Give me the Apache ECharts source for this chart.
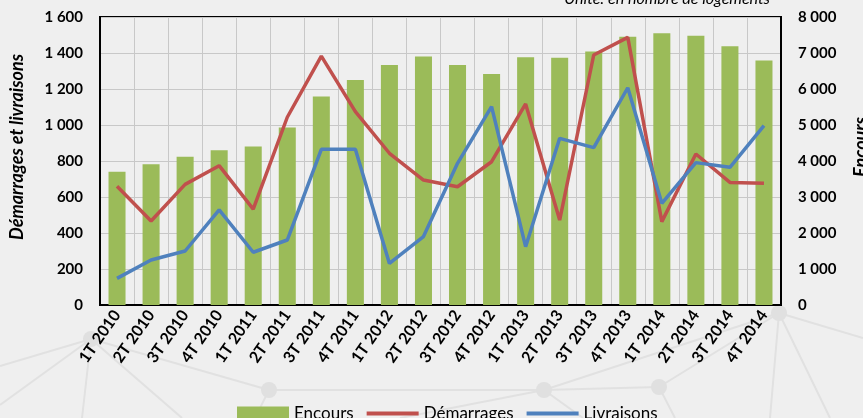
<!DOCTYPE html>
<html>
<head>
<meta charset="utf-8">
<script src="https://cdn.jsdelivr.net/npm/echarts@6/dist/echarts.min.js"></script>
<style>
  html, body { margin: 0; padding: 0; background: #efefef; }
  #chart { width: 863px; height: 418px; }
</style>
</head>
<body>
<div id="chart"></div>
<script>
// quarters
var categories = ['1T 2010', '2T 2010', '3T 2010', '4T 2010', '1T 2011', '2T 2011', '3T 2011', '4T 2011',
  '1T 2012', '2T 2012', '3T 2012', '4T 2012', '1T 2013', '2T 2013', '3T 2013', '4T 2013',
  '1T 2014', '2T 2014', '3T 2014', '4T 2014']

// right axis
var encours = [3700, 3910, 4120, 4300, 4400, 4930, 5790, 6250, 6670, 6900, 6670, 6420,
  6880, 6870, 7040, 7450, 7550, 7480, 7190, 6790]

// left axis
var demarrages = [660, 467, 670, 774, 533, 1043, 1383, 1074, 843, 694, 657, 796,
  1117, 472, 1389, 1487, 463, 839, 681, 676]
var livraisons = [148, 250, 300, 528, 293, 361, 865, 865, 231, 380, 787, 1102,
  324, 926, 874, 1207, 565, 791, 765, 996]

var leftTicks = { min: 0, max: 1600, interval: 200 }
var rightTicks = { min: 0, max: 8000, interval: 1000 }

function fmt(v) {
  return String(v).replace(/\B(?=(\d{3})+(?!\d))/g, ' ')
}

var FONT = 'Lato'
var chart = echarts.init(document.getElementById('chart'))

// background decoration (network lines)
var deco = '#e1e1e1'
var segs = [
  [91, 339, 0, 366], [91, 339, 0, 405], [91, 339, 82, 418], [91, 339, 182, 418], [91, 339, 269, 390],
  [269, 390, 544, 390], [269, 390, 255, 418], [544, 390, 659, 387], [544, 390, 400, 418],
  [544, 390, 583, 418], [544, 390, 779, 313], [659, 387, 779, 313], [659, 387, 675, 418],
  [779, 313, 770, 418], [779, 313, 830, 418], [779, 313, 863, 338]
]
var nodes = [[91, 339], [269, 390], [544, 390], [659, 387], [779, 313]]
var graphics = []
segs.forEach(function (s) {
  graphics.push({ type: 'line', z: -10, silent: true,
    shape: { x1: s[0], y1: s[1], x2: s[2], y2: s[3] },
    style: { stroke: deco, lineWidth: 2 } })
})
nodes.forEach(function (n) {
  graphics.push({ type: 'circle', z: -9, silent: true,
    shape: { cx: n[0], cy: n[1], r: 8 }, style: { fill: '#e0e0e0' } })
})
graphics.push({
  type: 'text', right: 93, top: -9,
  style: { text: 'Unité: en nombre de logements', font: 'italic 16px ' + FONT, fill: '#000' }
})

var lineIcon = 'path://M0,0H52V4H0Z'
var nameStyle = {
  fontFamily: FONT, fontStyle: 'italic', fontWeight: 'bold', fontSize: 18, color: '#000'
}

chart.setOption({
  backgroundColor: '#efefef',
  animation: false,
  graphic: graphics,
  grid: {
    left: 100, right: 82, top: 17, bottom: 113,
    outerBoundsMode: 'none',
    show: true, borderColor: '#000', borderWidth: 2, backgroundColor: 'transparent'
  },
  legend: {
    left: 237, top: 405, padding: 0,
    itemWidth: 52, itemHeight: 14, itemGap: 13,
    textStyle: { fontFamily: FONT, fontSize: 17, color: '#000' },
    data: [
      { name: 'Encours', icon: 'rect' },
      { name: 'Démarrages', icon: lineIcon },
      { name: 'Livraisons', icon: lineIcon }
    ]
  },
  xAxis: {
    type: 'category',
    data: categories,
    boundaryGap: true,
    axisLine: { lineStyle: { color: '#000', width: 2 } },
    axisTick: { show: false },
    axisLabel: {
      rotate: 55, interval: 0, margin: 7,
      fontFamily: FONT, fontWeight: 'bold', fontSize: 16, color: '#000'
    },
    splitLine: { show: true, interval: 0, lineStyle: { color: '#c8c8c8', width: 1 } }
  },
  yAxis: [
    {
      type: 'value',
      min: leftTicks.min, max: leftTicks.max, interval: leftTicks.interval,
      name: 'Démarrages et livraisons',
      nameLocation: 'middle', nameGap: 74,
      nameTextStyle: Object.assign({ padding: [0, 0, 0, 28] }, nameStyle),
      axisLine: { show: true, lineStyle: { color: '#000', width: 2 } },
      axisTick: { show: false },
      axisLabel: { formatter: fmt, margin: 17, fontFamily: FONT, fontWeight: 'bold', fontSize: 15, color: '#000' },
      splitLine: { show: true, lineStyle: { color: '#c8c8c8', width: 1 } }
    },
    {
      type: 'value',
      min: rightTicks.min, max: rightTicks.max, interval: rightTicks.interval,
      name: 'Encours',
      nameLocation: 'middle', nameGap: 71,
      nameTextStyle: Object.assign({ padding: [0, 0, 0, 28] }, nameStyle),
      axisLine: { show: true, lineStyle: { color: '#000', width: 2 } },
      axisTick: { show: false },
      axisLabel: { formatter: fmt, margin: 17, fontFamily: FONT, fontWeight: 'bold', fontSize: 15, color: '#000' },
      splitLine: { show: false }
    }
  ],
  series: [
    {
      name: 'Encours', type: 'bar', yAxisIndex: 1,
      data: encours, barWidth: '50%',
      itemStyle: { color: '#9bbb59' }
    },
    {
      name: 'Démarrages', type: 'line', yAxisIndex: 0,
      data: demarrages, symbol: 'none',
      lineStyle: { color: '#c0504d', width: 3.5 },
      itemStyle: { color: '#c0504d' }
    },
    {
      name: 'Livraisons', type: 'line', yAxisIndex: 0,
      data: livraisons, symbol: 'none',
      lineStyle: { color: '#4f81bd', width: 3.5 },
      itemStyle: { color: '#4f81bd' }
    }
  ]
})
</script>
</body>
</html>
